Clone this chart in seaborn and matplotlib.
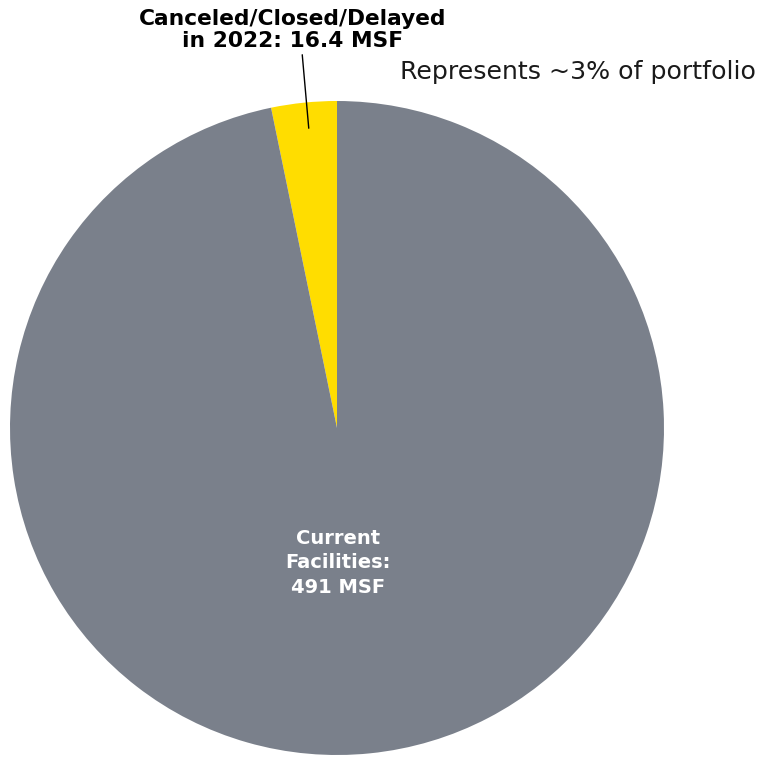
import matplotlib
matplotlib.use("Agg")
import matplotlib.pyplot as plt
import seaborn as sns

sns.set_theme(style="white")
plt.rcParams['font.family'] = ['DejaVu Sans']

categories = ["Canceled/Closed/Delayed\nin 2022: 16.4 MSF", "Current\nFacilities:\n491 MSF"]
values = [16.4, 491]
colors = ["#FFDD00", "#7A808B"]
note = "Represents ~3% of portfolio"

fig = plt.figure(figsize=(7.7, 7.57), dpi=100)
ax = fig.add_axes([10/770, 2/757, 654/770, 654/757])
ax.pie(values, colors=colors, startangle=90, counterclock=True, radius=1,
       wedgeprops=dict(linewidth=0))
ax.set_xlim(-1, 1)
ax.set_ylim(-1, 1)
ax.set_aspect('equal')
ax.axis('off')

def px(x, y):
    return ((x - 337) / 327, (428 - y) / 327)

ax.annotate("", xy=px(309, 131), xytext=px(302, 52),
            arrowprops=dict(arrowstyle='-', color='black', lw=1))
ax.text(*px(292.5, 30), categories[0], ha='center', va='center', fontsize=15.7,
        fontweight='heavy', color='black', linespacing=1.12)
ax.text(*px(400, 72), note, ha='left', va='center', fontsize=18.2,
        fontweight='normal', color='#1a1a1a')
ax.text(*px(338, 563), categories[1], ha='center', va='center', fontsize=14,
        fontweight='heavy', color='white', linespacing=1.35)

fig.savefig("out.png", dpi=100)
